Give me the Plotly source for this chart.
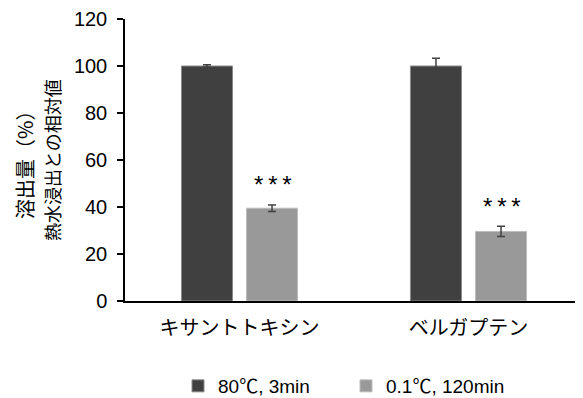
import plotly.graph_objects as go

categories = ["キサントトキシン", "ベルガプテン"]
series_names = ["80℃, 3min", "0.1℃, 120min"]
hot_values = [100.0, 100.0]
hot_errors = [0.5, 3.3]
cold_values = [39.5, 29.6]
cold_errors = [1.4, 2.2]
significance = ["*\u2009*\u2009*", "*\u2009*\u2009*"]
y_ticks = [0, 20, 40, 60, 80, 100, 120]

FONT = "Liberation Sans, Arial, Noto Sans CJK JP, sans-serif"
CJK = "Noto Sans CJK JP, sans-serif"
DARK = "#404040"
LIGHT = "#999999"

OFF = 8  # page body margin
W, H = 583 - OFF, 398 - OFF
L, T, B = 125 - OFF, 19 - OFF, H - (301 - OFF)
plot_w = W - L
plot_h = H - T - B

fig = go.Figure()
fig.add_trace(go.Bar(
    x=categories, y=hot_values, name=series_names[0],
    marker=dict(color=DARK, line=dict(color="#8a8a8a", width=1)),
    error_y=dict(type="data", array=hot_errors, visible=True,
                 color=DARK, thickness=1.5, width=4),
))
fig.add_trace(go.Bar(
    x=categories, y=cold_values, name=series_names[1],
    marker=dict(color=LIGHT, line=dict(color="#bdbdbd", width=1)),
    error_y=dict(type="data", array=cold_errors, visible=True,
                 color=DARK, thickness=1.5, width=4),
))

annotations = []
for cat, v, e, s in zip(categories, cold_values, cold_errors, significance):
    annotations.append(dict(
        x=cat, y=v + e + 8.5, xref="x", yref="y", xshift=33,
        text=s, showarrow=False, xanchor="center", yanchor="middle",
        font=dict(size=24, color="#000000", family=FONT),
    ))

annotations.append(dict(
    x=(24 - 125) / plot_w, y=0.5, xref="paper", yref="paper",
    text="溶出量（%）", textangle=-90, showarrow=False,
    xanchor="center", yanchor="middle",
    font=dict(size=20, color="#000000", family=CJK),
))
annotations.append(dict(
    x=(52 - 125) / plot_w, y=0.5, xref="paper", yref="paper",
    text="熱水浸出との相対値", textangle=-90, showarrow=False,
    xanchor="center", yanchor="middle",
    font=dict(size=18, color="#000000", family=CJK),
))

fig.update_layout(
    width=W, height=H,
    margin=dict(l=L, r=0, t=T, b=B, pad=0, autoexpand=False),
    paper_bgcolor="white", plot_bgcolor="white",
    barmode="group", bargap=0.432, bargroupgap=0.215,
    font=dict(family=FONT, size=19, color="#000000"),
    showlegend=True,
    legend=dict(
        orientation="h", x=(178 - 125) / plot_w, xanchor="left",
        y=(301 - 386) / plot_h, yanchor="middle",
        entrywidth=123, entrywidthmode="pixels",
        font=dict(size=19, family=FONT, color="#000000"),
        itemwidth=30, bgcolor="rgba(0,0,0,0)",
    ),
    annotations=annotations,
)
fig.update_xaxes(
    showline=True, linecolor="#000000", linewidth=1.5,
    ticks="", showgrid=False,
    tickfont=dict(size=20, family=FONT, color="#000000"),
    ticklabelstandoff=8,
)
fig.update_yaxes(
    range=[0, 120], tickvals=y_ticks, ticktext=[str(t) for t in y_ticks],
    showline=True, linecolor="#000000", linewidth=1.5,
    ticks="outside", ticklen=6, tickwidth=1.5, tickcolor="#000000",
    showgrid=False, zeroline=False,
    tickfont=dict(size=20, family=FONT, color="#000000"),
    ticklabelstandoff=6,
)

fig.write_html("out.html")
